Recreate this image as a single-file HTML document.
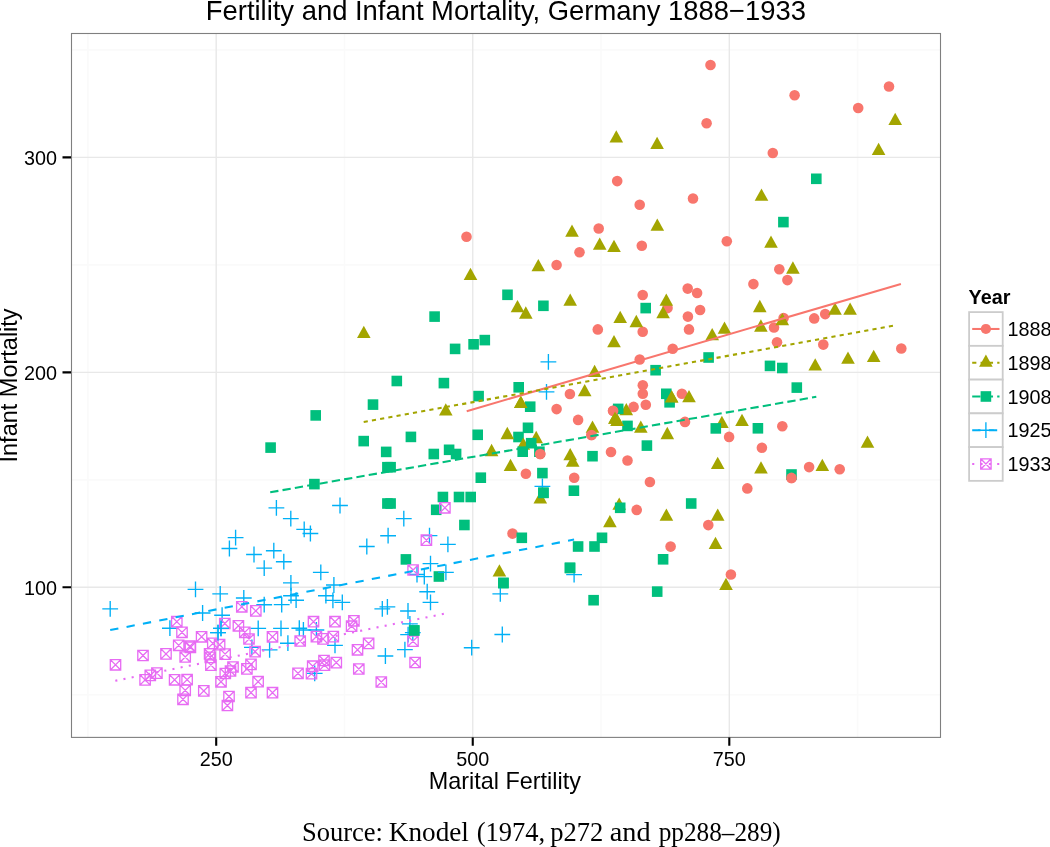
<!DOCTYPE html>
<html><head><meta charset="utf-8"><style>
html,body{margin:0;padding:0;background:#fff;overflow:hidden;}
svg{display:block;will-change:transform;}
</style></head><body>
<svg width="1050" height="847" viewBox="0 0 1050 847">
<rect width="1050" height="847" fill="#fff"/>
<path d="M87.92 33.5V737.4M344.48 33.5V737.4M601.02 33.5V737.4M857.58 33.5V737.4M71.5 694.77H940.5M71.5 479.83H940.5M71.5 264.88H940.5M71.5 49.92H940.5" stroke="#fafafa" stroke-width="1.6" fill="none"/>
<path d="M216.2 33.5V737.4M472.75 33.5V737.4M729.3 33.5V737.4M71.5 587.3H940.5M71.5 372.35H940.5M71.5 157.4H940.5" stroke="#e8e8e8" stroke-width="1.4" fill="none"/>
<circle cx="710.5" cy="65" r="5.3" fill="#F8766D"/>
<circle cx="706.6" cy="123.2" r="5.3" fill="#F8766D"/>
<circle cx="617.2" cy="181.1" r="5.3" fill="#F8766D"/>
<circle cx="794.6" cy="95.2" r="5.3" fill="#F8766D"/>
<circle cx="889" cy="86.5" r="5.3" fill="#F8766D"/>
<circle cx="858.2" cy="108" r="5.3" fill="#F8766D"/>
<circle cx="772.8" cy="153" r="5.3" fill="#F8766D"/>
<circle cx="693" cy="198.5" r="5.3" fill="#F8766D"/>
<circle cx="639.7" cy="204.7" r="5.3" fill="#F8766D"/>
<circle cx="598.7" cy="228.5" r="5.3" fill="#F8766D"/>
<circle cx="641.8" cy="245.7" r="5.3" fill="#F8766D"/>
<circle cx="726.8" cy="241.2" r="5.3" fill="#F8766D"/>
<circle cx="579.5" cy="252.2" r="5.3" fill="#F8766D"/>
<circle cx="753.4" cy="284.1" r="5.3" fill="#F8766D"/>
<circle cx="687.7" cy="288.6" r="5.3" fill="#F8766D"/>
<circle cx="697.1" cy="293" r="5.3" fill="#F8766D"/>
<circle cx="642.7" cy="295" r="5.3" fill="#F8766D"/>
<circle cx="667.5" cy="308.1" r="5.3" fill="#F8766D"/>
<circle cx="700.1" cy="310" r="5.3" fill="#F8766D"/>
<circle cx="687.9" cy="316.6" r="5.3" fill="#F8766D"/>
<circle cx="597.8" cy="329.4" r="5.3" fill="#F8766D"/>
<circle cx="642.7" cy="331.7" r="5.3" fill="#F8766D"/>
<circle cx="689" cy="329.4" r="5.3" fill="#F8766D"/>
<circle cx="672.7" cy="348.7" r="5.3" fill="#F8766D"/>
<circle cx="466.5" cy="236.8" r="5.3" fill="#F8766D"/>
<circle cx="556.6" cy="265" r="5.3" fill="#F8766D"/>
<circle cx="779.3" cy="269.3" r="5.3" fill="#F8766D"/>
<circle cx="787.4" cy="280.1" r="5.3" fill="#F8766D"/>
<circle cx="783.6" cy="318" r="5.3" fill="#F8766D"/>
<circle cx="774" cy="327.5" r="5.3" fill="#F8766D"/>
<circle cx="814.2" cy="318.4" r="5.3" fill="#F8766D"/>
<circle cx="825.2" cy="314.1" r="5.3" fill="#F8766D"/>
<circle cx="777" cy="342.2" r="5.3" fill="#F8766D"/>
<circle cx="823.3" cy="344.6" r="5.3" fill="#F8766D"/>
<circle cx="901.3" cy="348.5" r="5.3" fill="#F8766D"/>
<circle cx="639.7" cy="359.5" r="5.3" fill="#F8766D"/>
<circle cx="642.8" cy="385.3" r="5.3" fill="#F8766D"/>
<circle cx="642.8" cy="393.8" r="5.3" fill="#F8766D"/>
<circle cx="645.8" cy="404.7" r="5.3" fill="#F8766D"/>
<circle cx="633.6" cy="406.9" r="5.3" fill="#F8766D"/>
<circle cx="613.1" cy="410.8" r="5.3" fill="#F8766D"/>
<circle cx="681.9" cy="393.8" r="5.3" fill="#F8766D"/>
<circle cx="569.9" cy="394" r="5.3" fill="#F8766D"/>
<circle cx="556.6" cy="409.1" r="5.3" fill="#F8766D"/>
<circle cx="578.1" cy="419.9" r="5.3" fill="#F8766D"/>
<circle cx="591.5" cy="435" r="5.3" fill="#F8766D"/>
<circle cx="611" cy="452" r="5.3" fill="#F8766D"/>
<circle cx="627.5" cy="460.5" r="5.3" fill="#F8766D"/>
<circle cx="649.9" cy="482" r="5.3" fill="#F8766D"/>
<circle cx="685" cy="421.9" r="5.3" fill="#F8766D"/>
<circle cx="729.1" cy="436.9" r="5.3" fill="#F8766D"/>
<circle cx="782.3" cy="426.3" r="5.3" fill="#F8766D"/>
<circle cx="761.9" cy="447.7" r="5.3" fill="#F8766D"/>
<circle cx="791.5" cy="477.9" r="5.3" fill="#F8766D"/>
<circle cx="809.1" cy="467.1" r="5.3" fill="#F8766D"/>
<circle cx="839.7" cy="469.2" r="5.3" fill="#F8766D"/>
<circle cx="747.3" cy="488.4" r="5.3" fill="#F8766D"/>
<circle cx="540.2" cy="454" r="5.3" fill="#F8766D"/>
<circle cx="525.9" cy="473.7" r="5.3" fill="#F8766D"/>
<circle cx="574.2" cy="477.7" r="5.3" fill="#F8766D"/>
<circle cx="512.5" cy="533.6" r="5.3" fill="#F8766D"/>
<circle cx="636.7" cy="509.9" r="5.3" fill="#F8766D"/>
<circle cx="708.3" cy="525.1" r="5.3" fill="#F8766D"/>
<circle cx="670.6" cy="546.6" r="5.3" fill="#F8766D"/>
<circle cx="730.9" cy="574.5" r="5.3" fill="#F8766D"/>
<rect x="513.2" y="431.7" width="10.6" height="10.6" fill="#00BF7D"/>
<path d="M616.3 130.25L623.1 142.55L609.5 142.55Z" fill="#A3A500"/>
<path d="M657.1 136.65L663.9 148.95L650.3 148.95Z" fill="#A3A500"/>
<path d="M895.2 112.65L902 124.95L888.4 124.95Z" fill="#A3A500"/>
<path d="M878.6 142.75L885.4 155.05L871.8 155.05Z" fill="#A3A500"/>
<path d="M761.5 188.55L768.3 200.85L754.7 200.85Z" fill="#A3A500"/>
<path d="M771 235.45L777.8 247.75L764.2 247.75Z" fill="#A3A500"/>
<path d="M792.9 261.35L799.7 273.65L786.1 273.65Z" fill="#A3A500"/>
<path d="M657.3 218.45L664.1 230.75L650.5 230.75Z" fill="#A3A500"/>
<path d="M599.7 237.55L606.5 249.85L592.9 249.85Z" fill="#A3A500"/>
<path d="M614 239.75L620.8 252.05L607.2 252.05Z" fill="#A3A500"/>
<path d="M572 224.55L578.8 236.85L565.2 236.85Z" fill="#A3A500"/>
<path d="M538.3 259.05L545.1 271.35L531.5 271.35Z" fill="#A3A500"/>
<path d="M470.5 267.65L477.3 279.95L463.7 279.95Z" fill="#A3A500"/>
<path d="M363.8 325.75L370.6 338.05L357 338.05Z" fill="#A3A500"/>
<path d="M666.3 293.45L673.1 305.75L659.5 305.75Z" fill="#A3A500"/>
<path d="M663.1 305.95L669.9 318.25L656.3 318.25Z" fill="#A3A500"/>
<path d="M620.2 310.65L627 322.95L613.4 322.95Z" fill="#A3A500"/>
<path d="M636.3 314.85L643.1 327.15L629.5 327.15Z" fill="#A3A500"/>
<path d="M614 335.05L620.8 347.35L607.2 347.35Z" fill="#A3A500"/>
<path d="M724.5 321.45L731.3 333.75L717.7 333.75Z" fill="#A3A500"/>
<path d="M712.2 328.05L719 340.35L705.4 340.35Z" fill="#A3A500"/>
<path d="M759.8 299.85L766.6 312.15L753 312.15Z" fill="#A3A500"/>
<path d="M782.3 312.95L789.1 325.25L775.5 325.25Z" fill="#A3A500"/>
<path d="M760.9 319.35L767.7 331.65L754.1 331.65Z" fill="#A3A500"/>
<path d="M835 302.55L841.8 314.85L828.2 314.85Z" fill="#A3A500"/>
<path d="M850.1 302.55L856.9 314.85L843.3 314.85Z" fill="#A3A500"/>
<path d="M873.7 349.65L880.5 361.95L866.9 361.95Z" fill="#A3A500"/>
<path d="M848 351.45L854.8 363.75L841.2 363.75Z" fill="#A3A500"/>
<path d="M815.2 358.15L822 370.45L808.4 370.45Z" fill="#A3A500"/>
<path d="M867.5 435.55L874.3 447.85L860.7 447.85Z" fill="#A3A500"/>
<path d="M761 461.15L767.8 473.45L754.2 473.45Z" fill="#A3A500"/>
<path d="M822.3 458.75L829.1 471.05L815.5 471.05Z" fill="#A3A500"/>
<path d="M570.2 293.45L577 305.75L563.4 305.75Z" fill="#A3A500"/>
<path d="M517.5 300.05L524.3 312.35L510.7 312.35Z" fill="#A3A500"/>
<path d="M525.8 306.35L532.6 318.65L519 318.65Z" fill="#A3A500"/>
<path d="M594.6 364.75L601.4 377.05L587.8 377.05Z" fill="#A3A500"/>
<path d="M584.7 384.05L591.5 396.35L577.9 396.35Z" fill="#A3A500"/>
<path d="M626.3 402.95L633.1 415.25L619.5 415.25Z" fill="#A3A500"/>
<path d="M615 411.55L621.8 423.85L608.2 423.85Z" fill="#A3A500"/>
<path d="M617.2 413.65L624 425.95L610.4 425.95Z" fill="#A3A500"/>
<path d="M671.6 390.15L678.4 402.45L664.8 402.45Z" fill="#A3A500"/>
<path d="M689 390.05L695.8 402.35L682.2 402.35Z" fill="#A3A500"/>
<path d="M592.5 420.55L599.3 432.85L585.7 432.85Z" fill="#A3A500"/>
<path d="M640.8 420.55L647.6 432.85L634 432.85Z" fill="#A3A500"/>
<path d="M667.3 426.85L674.1 439.15L660.5 439.15Z" fill="#A3A500"/>
<path d="M721.9 415.75L728.7 428.05L715.1 428.05Z" fill="#A3A500"/>
<path d="M742 413.75L748.8 426.05L735.2 426.05Z" fill="#A3A500"/>
<path d="M717.7 456.65L724.5 468.95L710.9 468.95Z" fill="#A3A500"/>
<path d="M520.8 395.75L527.6 408.05L514 408.05Z" fill="#A3A500"/>
<path d="M445.8 403.15L452.6 415.45L439 415.45Z" fill="#A3A500"/>
<path d="M507.3 426.85L514.1 439.15L500.5 439.15Z" fill="#A3A500"/>
<path d="M536.2 430.85L543 443.15L529.4 443.15Z" fill="#A3A500"/>
<path d="M523.3 437.45L530.1 449.75L516.5 449.75Z" fill="#A3A500"/>
<path d="M491.6 443.85L498.4 456.15L484.8 456.15Z" fill="#A3A500"/>
<path d="M510.5 458.75L517.3 471.05L503.7 471.05Z" fill="#A3A500"/>
<path d="M540.3 491.15L547.1 503.45L533.5 503.45Z" fill="#A3A500"/>
<path d="M570.2 448.05L577 460.35L563.4 460.35Z" fill="#A3A500"/>
<path d="M572.7 454.45L579.5 466.75L565.9 466.75Z" fill="#A3A500"/>
<path d="M619.2 497.55L626 509.85L612.4 509.85Z" fill="#A3A500"/>
<path d="M609.9 514.95L616.7 527.25L603.1 527.25Z" fill="#A3A500"/>
<path d="M666.4 508.55L673.2 520.85L659.6 520.85Z" fill="#A3A500"/>
<path d="M717.7 508.55L724.5 520.85L710.9 520.85Z" fill="#A3A500"/>
<path d="M715.5 536.65L722.3 548.95L708.7 548.95Z" fill="#A3A500"/>
<path d="M726 577.65L732.8 589.95L719.2 589.95Z" fill="#A3A500"/>
<path d="M499.4 564.25L506.2 576.55L492.6 576.55Z" fill="#A3A500"/>
<rect x="811" y="173.5" width="10.6" height="10.6" fill="#00BF7D"/>
<rect x="778.1" y="216.8" width="10.6" height="10.6" fill="#00BF7D"/>
<rect x="640.4" y="302.8" width="10.6" height="10.6" fill="#00BF7D"/>
<rect x="502.2" y="289.5" width="10.6" height="10.6" fill="#00BF7D"/>
<rect x="538.1" y="300.5" width="10.6" height="10.6" fill="#00BF7D"/>
<rect x="429.3" y="311.3" width="10.6" height="10.6" fill="#00BF7D"/>
<rect x="479.5" y="334.8" width="10.6" height="10.6" fill="#00BF7D"/>
<rect x="468.3" y="339" width="10.6" height="10.6" fill="#00BF7D"/>
<rect x="449.8" y="343.6" width="10.6" height="10.6" fill="#00BF7D"/>
<rect x="650.3" y="364.9" width="10.6" height="10.6" fill="#00BF7D"/>
<rect x="703.3" y="352.2" width="10.6" height="10.6" fill="#00BF7D"/>
<rect x="764.7" y="360.6" width="10.6" height="10.6" fill="#00BF7D"/>
<rect x="777" y="362.7" width="10.6" height="10.6" fill="#00BF7D"/>
<rect x="791.5" y="382.3" width="10.6" height="10.6" fill="#00BF7D"/>
<rect x="752.6" y="423" width="10.6" height="10.6" fill="#00BF7D"/>
<rect x="786.2" y="469.2" width="10.6" height="10.6" fill="#00BF7D"/>
<rect x="661" y="388.5" width="10.6" height="10.6" fill="#00BF7D"/>
<rect x="664.3" y="397" width="10.6" height="10.6" fill="#00BF7D"/>
<rect x="612.9" y="403.6" width="10.6" height="10.6" fill="#00BF7D"/>
<rect x="622.2" y="420.6" width="10.6" height="10.6" fill="#00BF7D"/>
<rect x="641.6" y="440.3" width="10.6" height="10.6" fill="#00BF7D"/>
<rect x="587.2" y="450.9" width="10.6" height="10.6" fill="#00BF7D"/>
<rect x="710.5" y="423.1" width="10.6" height="10.6" fill="#00BF7D"/>
<rect x="685.9" y="498.2" width="10.6" height="10.6" fill="#00BF7D"/>
<rect x="513.4" y="382" width="10.6" height="10.6" fill="#00BF7D"/>
<rect x="524.9" y="401.4" width="10.6" height="10.6" fill="#00BF7D"/>
<rect x="522.7" y="422.5" width="10.6" height="10.6" fill="#00BF7D"/>
<rect x="391.5" y="375.7" width="10.6" height="10.6" fill="#00BF7D"/>
<rect x="438.6" y="377.8" width="10.6" height="10.6" fill="#00BF7D"/>
<rect x="473.3" y="390.8" width="10.6" height="10.6" fill="#00BF7D"/>
<rect x="367.7" y="399.3" width="10.6" height="10.6" fill="#00BF7D"/>
<rect x="310.4" y="410.1" width="10.6" height="10.6" fill="#00BF7D"/>
<rect x="472.4" y="429.5" width="10.6" height="10.6" fill="#00BF7D"/>
<rect x="405.6" y="431.6" width="10.6" height="10.6" fill="#00BF7D"/>
<rect x="358.4" y="435.8" width="10.6" height="10.6" fill="#00BF7D"/>
<rect x="265.3" y="442.3" width="10.6" height="10.6" fill="#00BF7D"/>
<rect x="380.9" y="446.6" width="10.6" height="10.6" fill="#00BF7D"/>
<rect x="382.1" y="461.9" width="10.6" height="10.6" fill="#00BF7D"/>
<rect x="385.3" y="461.9" width="10.6" height="10.6" fill="#00BF7D"/>
<rect x="309.1" y="478.8" width="10.6" height="10.6" fill="#00BF7D"/>
<rect x="428.5" y="448.7" width="10.6" height="10.6" fill="#00BF7D"/>
<rect x="443.8" y="444.5" width="10.6" height="10.6" fill="#00BF7D"/>
<rect x="450.8" y="448.7" width="10.6" height="10.6" fill="#00BF7D"/>
<rect x="475.5" y="472.4" width="10.6" height="10.6" fill="#00BF7D"/>
<rect x="437.6" y="491.7" width="10.6" height="10.6" fill="#00BF7D"/>
<rect x="453.7" y="491.7" width="10.6" height="10.6" fill="#00BF7D"/>
<rect x="465.4" y="491.7" width="10.6" height="10.6" fill="#00BF7D"/>
<rect x="430.9" y="504.5" width="10.6" height="10.6" fill="#00BF7D"/>
<rect x="382.1" y="498.2" width="10.6" height="10.6" fill="#00BF7D"/>
<rect x="385.3" y="498.2" width="10.6" height="10.6" fill="#00BF7D"/>
<rect x="459.1" y="519.7" width="10.6" height="10.6" fill="#00BF7D"/>
<rect x="400.6" y="554.1" width="10.6" height="10.6" fill="#00BF7D"/>
<rect x="408.9" y="625.2" width="10.6" height="10.6" fill="#00BF7D"/>
<rect x="525.9" y="437.9" width="10.6" height="10.6" fill="#00BF7D"/>
<rect x="517.4" y="446.4" width="10.6" height="10.6" fill="#00BF7D"/>
<rect x="534.1" y="446.4" width="10.6" height="10.6" fill="#00BF7D"/>
<rect x="537.1" y="467.8" width="10.6" height="10.6" fill="#00BF7D"/>
<rect x="538.1" y="487.5" width="10.6" height="10.6" fill="#00BF7D"/>
<rect x="568.6" y="485.4" width="10.6" height="10.6" fill="#00BF7D"/>
<rect x="516.5" y="532.5" width="10.6" height="10.6" fill="#00BF7D"/>
<rect x="498.1" y="577.7" width="10.6" height="10.6" fill="#00BF7D"/>
<rect x="614.9" y="502.5" width="10.6" height="10.6" fill="#00BF7D"/>
<rect x="596.7" y="532.5" width="10.6" height="10.6" fill="#00BF7D"/>
<rect x="572.8" y="541.2" width="10.6" height="10.6" fill="#00BF7D"/>
<rect x="589.2" y="541.2" width="10.6" height="10.6" fill="#00BF7D"/>
<rect x="564.7" y="562.6" width="10.6" height="10.6" fill="#00BF7D"/>
<rect x="588.3" y="594.9" width="10.6" height="10.6" fill="#00BF7D"/>
<rect x="651.9" y="586.3" width="10.6" height="10.6" fill="#00BF7D"/>
<rect x="657.8" y="554" width="10.6" height="10.6" fill="#00BF7D"/>
<rect x="433.6" y="571.2" width="10.6" height="10.6" fill="#00BF7D"/>
<path d="M540.5 361.8H556.3M548.4 353.9V369.7" stroke="#00B0F6" stroke-width="1.35" fill="none"/>
<path d="M538.6 391.9H554.4M546.5 384V399.8" stroke="#00B0F6" stroke-width="1.35" fill="none"/>
<path d="M534.5 486.4H550.3M542.4 478.5V494.3" stroke="#00B0F6" stroke-width="1.35" fill="none"/>
<path d="M566.2 574.6H582M574.1 566.7V582.5" stroke="#00B0F6" stroke-width="1.35" fill="none"/>
<path d="M268.5 507.8H284.3M276.4 499.9V515.7" stroke="#00B0F6" stroke-width="1.35" fill="none"/>
<path d="M282.9 518.6H298.7M290.8 510.7V526.5" stroke="#00B0F6" stroke-width="1.35" fill="none"/>
<path d="M296.3 529.4H312.1M304.2 521.5V537.3" stroke="#00B0F6" stroke-width="1.35" fill="none"/>
<path d="M302.5 533.5H318.3M310.4 525.6V541.4" stroke="#00B0F6" stroke-width="1.35" fill="none"/>
<path d="M332.1 505.5H347.9M340 497.6V513.4" stroke="#00B0F6" stroke-width="1.35" fill="none"/>
<path d="M227.7 537.6H243.5M235.6 529.7V545.5" stroke="#00B0F6" stroke-width="1.35" fill="none"/>
<path d="M221.5 548.5H237.3M229.4 540.6V556.4" stroke="#00B0F6" stroke-width="1.35" fill="none"/>
<path d="M246.1 554.5H261.9M254 546.6V562.4" stroke="#00B0F6" stroke-width="1.35" fill="none"/>
<path d="M265.9 550.7H281.7M273.8 542.8V558.6" stroke="#00B0F6" stroke-width="1.35" fill="none"/>
<path d="M380.2 535.7H396M388.1 527.8V543.6" stroke="#00B0F6" stroke-width="1.35" fill="none"/>
<path d="M358.9 546.5H374.7M366.8 538.6V554.4" stroke="#00B0F6" stroke-width="1.35" fill="none"/>
<path d="M395.9 518.6H411.7M403.8 510.7V526.5" stroke="#00B0F6" stroke-width="1.35" fill="none"/>
<path d="M421.6 535.6H437.4M429.5 527.7V543.5" stroke="#00B0F6" stroke-width="1.35" fill="none"/>
<path d="M440 544.3H455.8M447.9 536.4V552.2" stroke="#00B0F6" stroke-width="1.35" fill="none"/>
<path d="M422.6 563.6H438.4M430.5 555.7V571.5" stroke="#00B0F6" stroke-width="1.35" fill="none"/>
<path d="M438 572.3H453.8M445.9 564.4V580.2" stroke="#00B0F6" stroke-width="1.35" fill="none"/>
<path d="M416.4 576.6H432.2M424.3 568.7V584.5" stroke="#00B0F6" stroke-width="1.35" fill="none"/>
<path d="M409.1 574.5H424.9M417 566.6V582.4" stroke="#00B0F6" stroke-width="1.35" fill="none"/>
<path d="M419.3 591.7H435.1M427.2 583.8V599.6" stroke="#00B0F6" stroke-width="1.35" fill="none"/>
<path d="M422.6 602.4H438.4M430.5 594.5V610.3" stroke="#00B0F6" stroke-width="1.35" fill="none"/>
<path d="M400.1 611H415.9M408 603.1V618.9" stroke="#00B0F6" stroke-width="1.35" fill="none"/>
<path d="M402 623.9H417.8M409.9 616V631.8" stroke="#00B0F6" stroke-width="1.35" fill="none"/>
<path d="M400.2 634.6H416M408.1 626.7V642.5" stroke="#00B0F6" stroke-width="1.35" fill="none"/>
<path d="M404.9 632.6H420.7M412.8 624.7V640.5" stroke="#00B0F6" stroke-width="1.35" fill="none"/>
<path d="M397 649.6H412.8M404.9 641.7V657.5" stroke="#00B0F6" stroke-width="1.35" fill="none"/>
<path d="M377.5 656H393.3M385.4 648.1V663.9" stroke="#00B0F6" stroke-width="1.35" fill="none"/>
<path d="M374.4 608.8H390.2M382.3 600.9V616.7" stroke="#00B0F6" stroke-width="1.35" fill="none"/>
<path d="M379.5 606.8H395.3M387.4 598.9V614.7" stroke="#00B0F6" stroke-width="1.35" fill="none"/>
<path d="M492.4 593.8H508.2M500.3 585.9V601.7" stroke="#00B0F6" stroke-width="1.35" fill="none"/>
<path d="M494.4 634.5H510.2M502.3 626.6V642.4" stroke="#00B0F6" stroke-width="1.35" fill="none"/>
<path d="M463.8 647.7H479.6M471.7 639.8V655.6" stroke="#00B0F6" stroke-width="1.35" fill="none"/>
<path d="M102.3 608.8H118.1M110.2 600.9V616.7" stroke="#00B0F6" stroke-width="1.35" fill="none"/>
<path d="M162 628.2H177.8M169.9 620.3V636.1" stroke="#00B0F6" stroke-width="1.35" fill="none"/>
<path d="M187.6 589.4H203.4M195.5 581.5V597.3" stroke="#00B0F6" stroke-width="1.35" fill="none"/>
<path d="M212.3 593.9H228.1M220.2 586V601.8" stroke="#00B0F6" stroke-width="1.35" fill="none"/>
<path d="M235.9 598H251.7M243.8 590.1V605.9" stroke="#00B0F6" stroke-width="1.35" fill="none"/>
<path d="M194.7 613H210.5M202.6 605.1V620.9" stroke="#00B0F6" stroke-width="1.35" fill="none"/>
<path d="M214.2 615.2H230M222.1 607.3V623.1" stroke="#00B0F6" stroke-width="1.35" fill="none"/>
<path d="M213.1 628.3H228.9M221 620.4V636.2" stroke="#00B0F6" stroke-width="1.35" fill="none"/>
<path d="M210.1 632.6H225.9M218 624.7V640.5" stroke="#00B0F6" stroke-width="1.35" fill="none"/>
<path d="M250.3 628.3H266.1M258.2 620.4V636.2" stroke="#00B0F6" stroke-width="1.35" fill="none"/>
<path d="M273.1 628.3H288.9M281 620.4V636.2" stroke="#00B0F6" stroke-width="1.35" fill="none"/>
<path d="M244 647.4H259.8M251.9 639.5V655.3" stroke="#00B0F6" stroke-width="1.35" fill="none"/>
<path d="M256.3 604.7H272.1M264.2 596.8V612.6" stroke="#00B0F6" stroke-width="1.35" fill="none"/>
<path d="M273.8 604.6H289.6M281.7 596.7V612.5" stroke="#00B0F6" stroke-width="1.35" fill="none"/>
<path d="M256.3 568.1H272.1M264.2 560.2V576" stroke="#00B0F6" stroke-width="1.35" fill="none"/>
<path d="M275.9 561.7H291.7M283.8 553.8V569.6" stroke="#00B0F6" stroke-width="1.35" fill="none"/>
<path d="M312.9 572.3H328.7M320.8 564.4V580.2" stroke="#00B0F6" stroke-width="1.35" fill="none"/>
<path d="M283 582.9H298.8M290.9 575V590.8" stroke="#00B0F6" stroke-width="1.35" fill="none"/>
<path d="M283.1 595.7H298.9M291 587.8V603.6" stroke="#00B0F6" stroke-width="1.35" fill="none"/>
<path d="M288.2 600.2H304M296.1 592.3V608.1" stroke="#00B0F6" stroke-width="1.35" fill="none"/>
<path d="M318 595.7H333.8M325.9 587.8V603.6" stroke="#00B0F6" stroke-width="1.35" fill="none"/>
<path d="M326 585H341.8M333.9 577.1V592.9" stroke="#00B0F6" stroke-width="1.35" fill="none"/>
<path d="M325 600.3H340.8M332.9 592.4V608.2" stroke="#00B0F6" stroke-width="1.35" fill="none"/>
<path d="M334.4 602.3H350.2M342.3 594.4V610.2" stroke="#00B0F6" stroke-width="1.35" fill="none"/>
<path d="M291.4 628.2H307.2M299.3 620.3V636.1" stroke="#00B0F6" stroke-width="1.35" fill="none"/>
<path d="M295.5 630H311.3M303.4 622.1V637.9" stroke="#00B0F6" stroke-width="1.35" fill="none"/>
<path d="M308.5 630H324.3M316.4 622.1V637.9" stroke="#00B0F6" stroke-width="1.35" fill="none"/>
<path d="M280 643.2H295.8M287.9 635.3V651.1" stroke="#00B0F6" stroke-width="1.35" fill="none"/>
<path d="M327.1 645.3H342.9M335 637.4V653.2" stroke="#00B0F6" stroke-width="1.35" fill="none"/>
<path d="M261.7 649.8H277.5M269.6 641.9V657.7" stroke="#00B0F6" stroke-width="1.35" fill="none"/>
<path d="M306.8 673.3H322.6M314.7 665.4V681.2" stroke="#00B0F6" stroke-width="1.35" fill="none"/>
<path d="M439.7 502.6H450.1V513H439.7ZM439.7 502.6L450.1 513M450.1 502.6L439.7 513" stroke="#E76BF3" stroke-width="1.3" fill="none"/>
<path d="M421.2 535H431.6V545.4H421.2ZM421.2 535L431.6 545.4M431.6 535L421.2 545.4" stroke="#E76BF3" stroke-width="1.3" fill="none"/>
<path d="M407.9 564.8H418.3V575.2H407.9ZM407.9 564.8L418.3 575.2M418.3 564.8L407.9 575.2" stroke="#E76BF3" stroke-width="1.3" fill="none"/>
<path d="M348.7 615.6H359.1V626H348.7ZM348.7 615.6L359.1 626M359.1 615.6L348.7 626" stroke="#E76BF3" stroke-width="1.3" fill="none"/>
<path d="M346.4 621H356.8V631.4H346.4ZM346.4 621L356.8 631.4M356.8 621L346.4 631.4" stroke="#E76BF3" stroke-width="1.3" fill="none"/>
<path d="M171.6 616.5H182V626.9H171.6ZM171.6 616.5L182 626.9M182 616.5L171.6 626.9" stroke="#E76BF3" stroke-width="1.3" fill="none"/>
<path d="M176.8 627.1H187.2V637.5H176.8ZM176.8 627.1L187.2 637.5M187.2 627.1L176.8 637.5" stroke="#E76BF3" stroke-width="1.3" fill="none"/>
<path d="M173.5 640.1H183.9V650.5H173.5ZM173.5 640.1L183.9 650.5M183.9 640.1L173.5 650.5" stroke="#E76BF3" stroke-width="1.3" fill="none"/>
<path d="M184.8 641H195.2V651.4H184.8ZM184.8 641L195.2 651.4M195.2 641L184.8 651.4" stroke="#E76BF3" stroke-width="1.3" fill="none"/>
<path d="M185.2 642.2H195.6V652.6H185.2ZM185.2 642.2L195.6 652.6M195.6 642.2L185.2 652.6" stroke="#E76BF3" stroke-width="1.3" fill="none"/>
<path d="M196.4 631.6H206.8V642H196.4ZM196.4 631.6L206.8 642M206.8 631.6L196.4 642" stroke="#E76BF3" stroke-width="1.3" fill="none"/>
<path d="M236.6 601.6H247V612H236.6ZM236.6 601.6L247 612M247 601.6L236.6 612" stroke="#E76BF3" stroke-width="1.3" fill="none"/>
<path d="M250.6 605.7H261V616.1H250.6ZM250.6 605.7L261 616.1M261 605.7L250.6 616.1" stroke="#E76BF3" stroke-width="1.3" fill="none"/>
<path d="M219.6 618.3H230V628.7H219.6ZM219.6 618.3L230 628.7M230 618.3L219.6 628.7" stroke="#E76BF3" stroke-width="1.3" fill="none"/>
<path d="M233.2 620.6H243.6V631H233.2ZM233.2 620.6L243.6 631M243.6 620.6L233.2 631" stroke="#E76BF3" stroke-width="1.3" fill="none"/>
<path d="M239.6 627.1H250V637.5H239.6ZM239.6 627.1L250 637.5M250 627.1L239.6 637.5" stroke="#E76BF3" stroke-width="1.3" fill="none"/>
<path d="M243.8 633.8H254.2V644.2H243.8ZM243.8 633.8L254.2 644.2M254.2 633.8L243.8 644.2" stroke="#E76BF3" stroke-width="1.3" fill="none"/>
<path d="M207.6 638.2H218V648.6H207.6ZM207.6 638.2L218 648.6M218 638.2L207.6 648.6" stroke="#E76BF3" stroke-width="1.3" fill="none"/>
<path d="M214.4 639.5H224.8V649.9H214.4ZM214.4 639.5L224.8 649.9M224.8 639.5L214.4 649.9" stroke="#E76BF3" stroke-width="1.3" fill="none"/>
<path d="M204.4 648.7H214.8V659.1H204.4ZM204.4 648.7L214.8 659.1M214.8 648.7L204.4 659.1" stroke="#E76BF3" stroke-width="1.3" fill="none"/>
<path d="M205.1 652.2H215.5V662.6H205.1ZM205.1 652.2L215.5 662.6M215.5 652.2L205.1 662.6" stroke="#E76BF3" stroke-width="1.3" fill="none"/>
<path d="M205.7 659.9H216.1V670.3H205.7ZM205.7 659.9L216.1 670.3M216.1 659.9L205.7 670.3" stroke="#E76BF3" stroke-width="1.3" fill="none"/>
<path d="M219.9 648.9H230.3V659.3H219.9ZM219.9 648.9L230.3 659.3M230.3 648.9L219.9 659.3" stroke="#E76BF3" stroke-width="1.3" fill="none"/>
<path d="M249.9 646.4H260.3V656.8H249.9ZM249.9 646.4L260.3 656.8M260.3 646.4L249.9 656.8" stroke="#E76BF3" stroke-width="1.3" fill="none"/>
<path d="M180 651.8H190.4V662.2H180ZM180 651.8L190.4 662.2M190.4 651.8L180 662.2" stroke="#E76BF3" stroke-width="1.3" fill="none"/>
<path d="M160.8 648.7H171.2V659.1H160.8ZM160.8 648.7L171.2 659.1M171.2 648.7L160.8 659.1" stroke="#E76BF3" stroke-width="1.3" fill="none"/>
<path d="M137.8 650.3H148.2V660.7H137.8ZM137.8 650.3L148.2 660.7M148.2 650.3L137.8 660.7" stroke="#E76BF3" stroke-width="1.3" fill="none"/>
<path d="M110.3 659.6H120.7V670H110.3ZM110.3 659.6L120.7 670M120.7 659.6L110.3 670" stroke="#E76BF3" stroke-width="1.3" fill="none"/>
<path d="M139.9 674.7H150.3V685.1H139.9ZM139.9 674.7L150.3 685.1M150.3 674.7L139.9 685.1" stroke="#E76BF3" stroke-width="1.3" fill="none"/>
<path d="M145.1 670.2H155.5V680.6H145.1ZM145.1 670.2L155.5 680.6M155.5 670.2L145.1 680.6" stroke="#E76BF3" stroke-width="1.3" fill="none"/>
<path d="M151.7 667.9H162.1V678.3H151.7ZM151.7 667.9L162.1 678.3M162.1 667.9L151.7 678.3" stroke="#E76BF3" stroke-width="1.3" fill="none"/>
<path d="M169.4 674.6H179.8V685H169.4ZM169.4 674.6L179.8 685M179.8 674.6L169.4 685" stroke="#E76BF3" stroke-width="1.3" fill="none"/>
<path d="M181.9 674.5H192.3V684.9H181.9ZM181.9 674.5L192.3 684.9M192.3 674.5L181.9 684.9" stroke="#E76BF3" stroke-width="1.3" fill="none"/>
<path d="M180 685.1H190.4V695.5H180ZM180 685.1L190.4 695.5M190.4 685.1L180 695.5" stroke="#E76BF3" stroke-width="1.3" fill="none"/>
<path d="M177.8 694.1H188.2V704.5H177.8ZM177.8 694.1L188.2 704.5M188.2 694.1L177.8 704.5" stroke="#E76BF3" stroke-width="1.3" fill="none"/>
<path d="M198.6 685.7H209V696.1H198.6ZM198.6 685.7L209 696.1M209 685.7L198.6 696.1" stroke="#E76BF3" stroke-width="1.3" fill="none"/>
<path d="M215.8 676.6H226.2V687H215.8ZM215.8 676.6L226.2 687M226.2 676.6L215.8 687" stroke="#E76BF3" stroke-width="1.3" fill="none"/>
<path d="M220.1 668.3H230.5V678.7H220.1ZM220.1 668.3L230.5 678.7M230.5 668.3L220.1 678.7" stroke="#E76BF3" stroke-width="1.3" fill="none"/>
<path d="M225.3 665.8H235.7V676.2H225.3ZM225.3 665.8L235.7 676.2M235.7 665.8L225.3 676.2" stroke="#E76BF3" stroke-width="1.3" fill="none"/>
<path d="M227.8 661.8H238.2V672.2H227.8ZM227.8 661.8L238.2 672.2M238.2 661.8L227.8 672.2" stroke="#E76BF3" stroke-width="1.3" fill="none"/>
<path d="M223.8 691.3H234.2V701.7H223.8ZM223.8 691.3L234.2 701.7M234.2 691.3L223.8 701.7" stroke="#E76BF3" stroke-width="1.3" fill="none"/>
<path d="M222.2 700.3H232.6V710.7H222.2ZM222.2 700.3L232.6 710.7M232.6 700.3L222.2 710.7" stroke="#E76BF3" stroke-width="1.3" fill="none"/>
<path d="M267.3 631.6H277.7V642H267.3ZM267.3 631.6L277.7 642M277.7 631.6L267.3 642" stroke="#E76BF3" stroke-width="1.3" fill="none"/>
<path d="M245.8 659.2H256.2V669.6H245.8ZM245.8 659.2L256.2 669.6M256.2 659.2L245.8 669.6" stroke="#E76BF3" stroke-width="1.3" fill="none"/>
<path d="M241.7 663.7H252.1V674.1H241.7ZM241.7 663.7L252.1 674.1M252.1 663.7L241.7 674.1" stroke="#E76BF3" stroke-width="1.3" fill="none"/>
<path d="M252.9 676.5H263.3V686.9H252.9ZM252.9 676.5L263.3 686.9M263.3 676.5L252.9 686.9" stroke="#E76BF3" stroke-width="1.3" fill="none"/>
<path d="M245.8 687.5H256.2V697.9H245.8ZM245.8 687.5L256.2 697.9M256.2 687.5L245.8 697.9" stroke="#E76BF3" stroke-width="1.3" fill="none"/>
<path d="M267.3 687.5H277.7V697.9H267.3ZM267.3 687.5L277.7 697.9M277.7 687.5L267.3 697.9" stroke="#E76BF3" stroke-width="1.3" fill="none"/>
<path d="M295 635.8H305.4V646.2H295ZM295 635.8L305.4 646.2M305.4 635.8L295 646.2" stroke="#E76BF3" stroke-width="1.3" fill="none"/>
<path d="M311.2 631.4H321.6V641.8H311.2ZM311.2 631.4L321.6 641.8M321.6 631.4L311.2 641.8" stroke="#E76BF3" stroke-width="1.3" fill="none"/>
<path d="M317.8 633.7H328.2V644.1H317.8ZM317.8 633.7L328.2 644.1M328.2 633.7L317.8 644.1" stroke="#E76BF3" stroke-width="1.3" fill="none"/>
<path d="M328.1 631.4H338.5V641.8H328.1ZM328.1 631.4L338.5 641.8M338.5 631.4L328.1 641.8" stroke="#E76BF3" stroke-width="1.3" fill="none"/>
<path d="M308.3 616.5H318.7V626.9H308.3ZM308.3 616.5L318.7 626.9M318.7 616.5L308.3 626.9" stroke="#E76BF3" stroke-width="1.3" fill="none"/>
<path d="M329.8 616.5H340.2V626.9H329.8ZM329.8 616.5L340.2 626.9M340.2 616.5L329.8 626.9" stroke="#E76BF3" stroke-width="1.3" fill="none"/>
<path d="M352.3 644.6H362.7V655H352.3ZM352.3 644.6L362.7 655M362.7 644.6L352.3 655" stroke="#E76BF3" stroke-width="1.3" fill="none"/>
<path d="M363.4 638.2H373.8V648.6H363.4ZM363.4 638.2L373.8 648.6M373.8 638.2L363.4 648.6" stroke="#E76BF3" stroke-width="1.3" fill="none"/>
<path d="M292.8 668.1H303.2V678.5H292.8ZM292.8 668.1L303.2 678.5M303.2 668.1L292.8 678.5" stroke="#E76BF3" stroke-width="1.3" fill="none"/>
<path d="M307.5 661H317.9V671.4H307.5ZM307.5 661L317.9 671.4M317.9 661L307.5 671.4" stroke="#E76BF3" stroke-width="1.3" fill="none"/>
<path d="M306.3 668.5H316.7V678.9H306.3ZM306.3 668.5L316.7 678.9M316.7 668.5L306.3 678.9" stroke="#E76BF3" stroke-width="1.3" fill="none"/>
<path d="M318.8 655.3H329.2V665.7H318.8ZM318.8 655.3L329.2 665.7M329.2 655.3L318.8 665.7" stroke="#E76BF3" stroke-width="1.3" fill="none"/>
<path d="M319.3 660H329.7V670.4H319.3ZM319.3 660L329.7 670.4M329.7 660L319.3 670.4" stroke="#E76BF3" stroke-width="1.3" fill="none"/>
<path d="M331.1 657.4H341.5V667.8H331.1ZM331.1 657.4L341.5 667.8M341.5 657.4L331.1 667.8" stroke="#E76BF3" stroke-width="1.3" fill="none"/>
<path d="M353.6 663.8H364V674.2H353.6ZM353.6 663.8L364 674.2M364 663.8L353.6 674.2" stroke="#E76BF3" stroke-width="1.3" fill="none"/>
<path d="M407.8 636H418.2V646.4H407.8ZM407.8 636L418.2 646.4M418.2 636L407.8 646.4" stroke="#E76BF3" stroke-width="1.3" fill="none"/>
<path d="M409.9 657.3H420.3V667.7H409.9ZM409.9 657.3L420.3 667.7M420.3 657.3L409.9 667.7" stroke="#E76BF3" stroke-width="1.3" fill="none"/>
<path d="M376.1 676.8H386.5V687.2H376.1ZM376.1 676.8L386.5 687.2M386.5 676.8L376.1 687.2" stroke="#E76BF3" stroke-width="1.3" fill="none"/>
<circle cx="613.1" cy="410.8" r="5.3" fill="#F8766D"/>
<circle cx="540.2" cy="454" r="5.3" fill="#F8766D"/>
<circle cx="791.5" cy="477.9" r="5.3" fill="#F8766D"/>
<circle cx="591.5" cy="435" r="5.3" fill="#F8766D"/>
<path d="M671.6 390.15L678.4 402.45L664.8 402.45Z" fill="#A3A500"/>
<path d="M520.8 395.75L527.6 408.05L514 408.05Z" fill="#A3A500"/>
<path d="M615 411.55L621.8 423.85L608.2 423.85Z" fill="#A3A500"/>
<path d="M617.2 413.65L624 425.95L610.4 425.95Z" fill="#A3A500"/>
<rect x="564.7" y="562.6" width="10.6" height="10.6" fill="#00BF7D"/>
<rect x="498.1" y="577.7" width="10.6" height="10.6" fill="#00BF7D"/>
<rect x="538.1" y="487.5" width="10.6" height="10.6" fill="#00BF7D"/>
<rect x="408.9" y="625.2" width="10.6" height="10.6" fill="#00BF7D"/>
<path d="M213.1 628.3H228.9M221 620.4V636.2" stroke="#00B0F6" stroke-width="1.35" fill="none"/>
<path d="M210.1 632.6H225.9M218 624.7V640.5" stroke="#00B0F6" stroke-width="1.35" fill="none"/>
<path d="M466.7 411.2L900.9 283.9" stroke="#F8766D" stroke-width="2.08" fill="none"/>
<path d="M363.7 422L895.2 325.4" stroke="#A3A500" stroke-width="2.08" fill="none" stroke-dasharray="4.17 4.17"/>
<path d="M270.2 492.3L816.3 396.8" stroke="#00BF7D" stroke-width="2.08" fill="none" stroke-dasharray="8.33 4.17"/>
<path d="M110.2 630.1L574.1 539.6" stroke="#00B0F6" stroke-width="2.08" fill="none" stroke-dasharray="8.33 8.33"/>
<path d="M115.3 680.8L444.9 613.6" stroke="#E76BF3" stroke-width="2.08" fill="none" stroke-dasharray="2.08 6.25"/>
<rect x="71.5" y="33.5" width="869" height="703.9" fill="none" stroke="#7f7f7f" stroke-width="1.1"/>
<path d="M216.2 737.4V745.7M472.75 737.4V745.7M729.3 737.4V745.7M71 587.3H62.5M71 372.35H62.5M71 157.4H62.5" stroke="#000" stroke-width="2.1" fill="none"/>
<rect x="969.1" y="312.1" width="33.6" height="33.75" fill="#fff" stroke="#cccccc" stroke-width="1.8"/>
<rect x="969.1" y="345.85" width="33.6" height="33.75" fill="#fff" stroke="#cccccc" stroke-width="1.8"/>
<rect x="969.1" y="379.6" width="33.6" height="33.75" fill="#fff" stroke="#cccccc" stroke-width="1.8"/>
<rect x="969.1" y="413.35" width="33.6" height="33.75" fill="#fff" stroke="#cccccc" stroke-width="1.8"/>
<rect x="969.1" y="447.1" width="33.6" height="33.75" fill="#fff" stroke="#cccccc" stroke-width="1.8"/>
<path d="M972.2 328.98H999.5" stroke="#F8766D" stroke-width="2.08" fill="none"/>
<path d="M972.2 362.73H999.5" stroke="#A3A500" stroke-width="2.08" fill="none" stroke-dasharray="4.17 4.17"/>
<path d="M972.2 396.48H999.5" stroke="#00BF7D" stroke-width="2.08" fill="none" stroke-dasharray="8.33 4.17"/>
<path d="M972.2 430.23H999.5" stroke="#00B0F6" stroke-width="2.08" fill="none" stroke-dasharray="8.33 8.33"/>
<path d="M972.2 463.98H999.5" stroke="#E76BF3" stroke-width="2.08" fill="none" stroke-dasharray="2.08 6.25"/>
<circle cx="985.9" cy="328.98" r="5.1" fill="#F8766D"/>
<path d="M985.9 354.53L992.7 366.82L979.1 366.82Z" fill="#A3A500"/>
<rect x="980.6" y="391.18" width="10.6" height="10.6" fill="#00BF7D"/>
<path d="M978 430.23H993.8M985.9 422.33V438.12" stroke="#00B0F6" stroke-width="1.35" fill="none"/>
<path d="M980.7 458.78H991.1V469.18H980.7ZM980.7 458.78L991.1 469.18M991.1 458.78L980.7 469.18" stroke="#E76BF3" stroke-width="1.3" fill="none"/>
<text x="205.8" y="20" font-family="'Liberation Sans', sans-serif" font-size="27.4">Fertility and Infant Mortality, Germany 1888−1933</text>
<text x="428.8" y="789.4" font-family="'Liberation Sans', sans-serif" font-size="23.4">Marital Fertility</text>
<text transform="translate(17.1 462.5) rotate(-90)" font-family="'Liberation Sans', sans-serif" font-size="23.5">Infant Mortality</text>
<text x="216.2" y="765.7" text-anchor="middle" font-family="'Liberation Sans', sans-serif" font-size="19.8">250</text>
<text x="472.75" y="765.7" text-anchor="middle" font-family="'Liberation Sans', sans-serif" font-size="19.8">500</text>
<text x="729.3" y="765.7" text-anchor="middle" font-family="'Liberation Sans', sans-serif" font-size="19.8">750</text>
<text x="57.1" y="594.6" text-anchor="end" font-family="'Liberation Sans', sans-serif" font-size="19.8">100</text>
<text x="57.1" y="379.65" text-anchor="end" font-family="'Liberation Sans', sans-serif" font-size="19.8">200</text>
<text x="57.1" y="164.7" text-anchor="end" font-family="'Liberation Sans', sans-serif" font-size="19.8">300</text>
<text x="968.6" y="303.6" font-family="'Liberation Sans', sans-serif" font-size="19.8" font-weight="bold">Year</text>
<text x="1007.6" y="335.9" font-family="'Liberation Sans', sans-serif" font-size="19.8">1888</text>
<text x="1007.6" y="369.8" font-family="'Liberation Sans', sans-serif" font-size="19.8">1898</text>
<text x="1007.6" y="403.8" font-family="'Liberation Sans', sans-serif" font-size="19.8">1908</text>
<text x="1007.6" y="437.3" font-family="'Liberation Sans', sans-serif" font-size="19.8">1925</text>
<text x="1007.6" y="471.0" font-family="'Liberation Sans', sans-serif" font-size="19.8">1933</text>
<text x="301.9" y="840.7" font-family="'Liberation Serif', serif" font-size="26.5">Source:</text>
<text x="388.8" y="840.7" font-family="'Liberation Serif', serif" font-size="26.5" textLength="80.1" lengthAdjust="spacingAndGlyphs">Knodel</text>
<text x="476.8" y="840.7" font-family="'Liberation Serif', serif" font-size="26.5">(1974,</text>
<text x="550.2" y="840.7" font-family="'Liberation Serif', serif" font-size="26.5">p272</text>
<text x="609.7" y="840.7" font-family="'Liberation Serif', serif" font-size="26.5" textLength="40.9" lengthAdjust="spacingAndGlyphs">and</text>
<text x="658.7" y="840.7" font-family="'Liberation Serif', serif" font-size="26.5" textLength="122.1" lengthAdjust="spacingAndGlyphs">pp288–289)</text>
</svg>
</body></html>
